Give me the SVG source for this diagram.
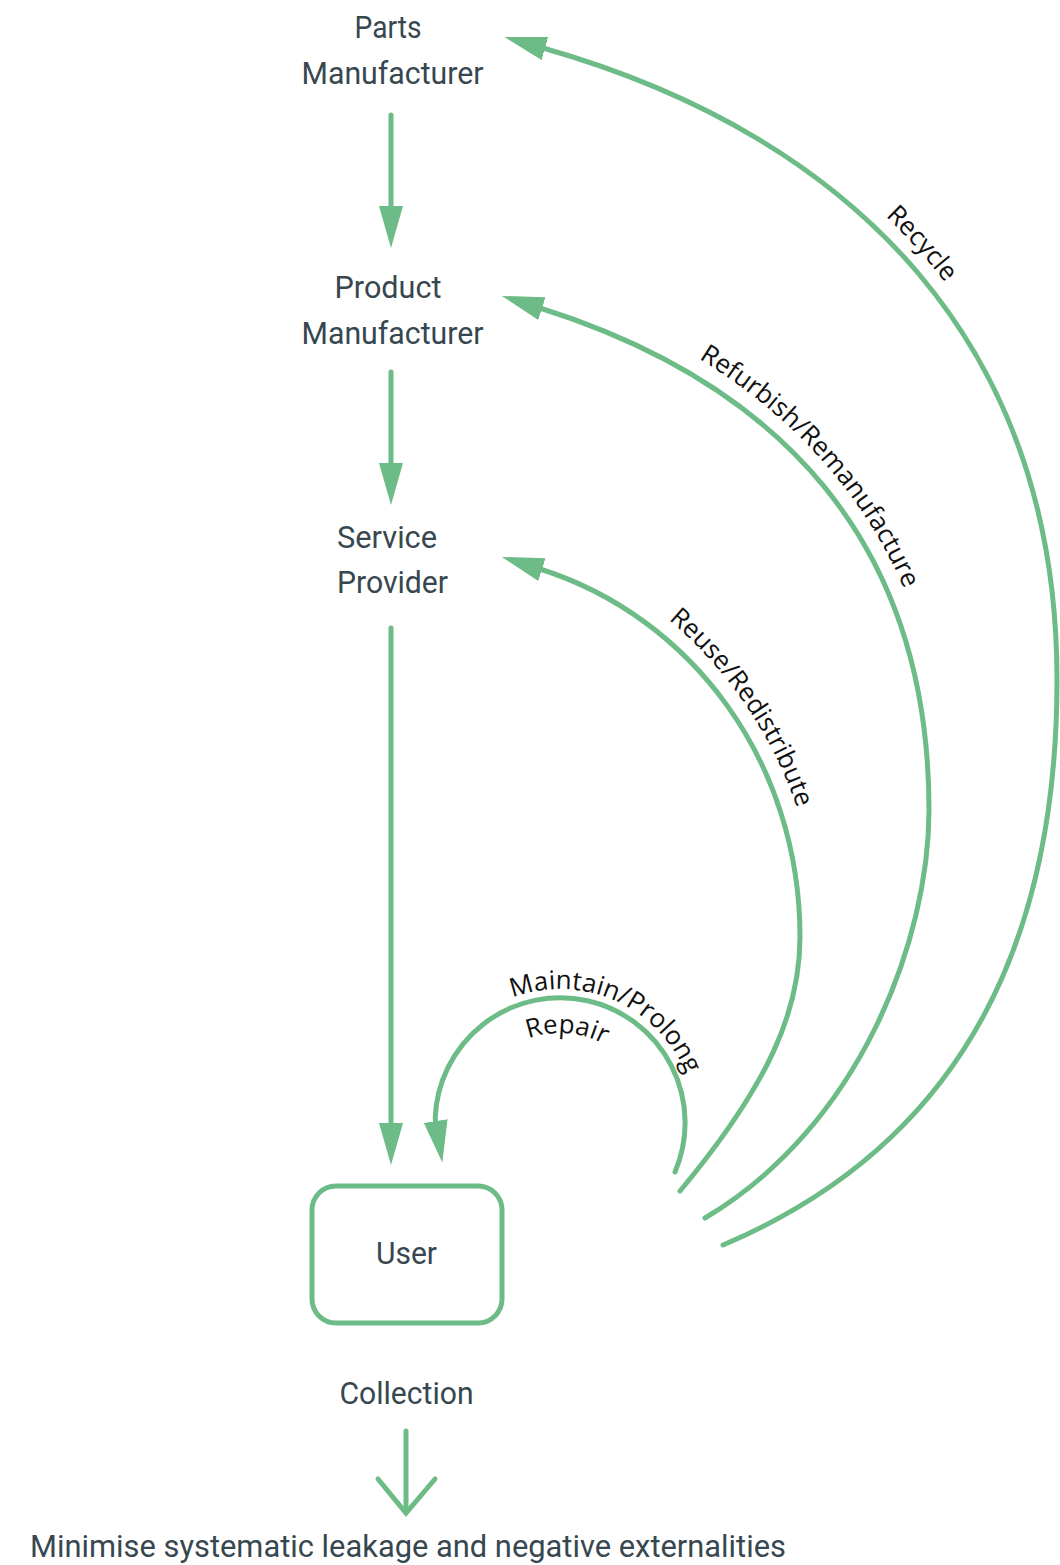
<svg xmlns="http://www.w3.org/2000/svg" xmlns:xlink="http://www.w3.org/1999/xlink" width="1060" height="1565" viewBox="0 0 1060 1565">
<style>
.node{font-family:Roboto,"Liberation Sans",sans-serif;font-size:32px;fill:#37474f;text-anchor:middle}
.lbl{font-family:"Open Sans","Noto Sans",sans-serif;font-size:26px;fill:#111}
.flow{fill:none;stroke:#6dbb86;stroke-width:5;stroke-linecap:round}
</style>
<defs>
<marker id="ah" markerUnits="userSpaceOnUse" viewBox="0 0 42 24" markerWidth="42" markerHeight="24" refX="2" refY="12" orient="auto">
<path d="M0,0 L42,12 L0,24 z" fill="#6dbb86"/>
</marker>
<path id="tpRecycle" d="M548.2,29.7 C865.2,119.7 1076,350 1076,680 C1076,930 978.4,1157.5 730.4,1262.5"/>
<path id="tpRefurb" d="M545.7,289.9 C783.2,364.9 948,540 948,810 C948,940 869.7,1142.3 714.7,1234.3"/>
<path id="tpReuse" d="M545.7,550.9 C697.7,598.9 819,762 819,937 C819,1010 784.6,1095.2 694.6,1203.2"/>
<path id="tpMaintain" d="M424,1125 A136,136 0 0 1 696,1125"/>
<path id="tpRepair" d="M468,1125 A92,92 0 0 1 652,1125"/>
</defs>
<rect width="1060" height="1565" fill="#fff"/>

<g id="connectors">
<path class="flow" d="M391,115 V208" marker-end="url(#ah)"/>
<path class="flow" d="M391,372 V465" marker-end="url(#ah)"/>
<path class="flow" d="M391,628 V1125" marker-end="url(#ah)"/>
<path class="flow" d="M723,1245 C971,1140 1057,930 1057,680 C1057,350 860,138 543,48" marker-end="url(#ah)"/>
<path class="flow" d="M705,1218 C860,1126 929,940 929,810 C929,540 777.5,383 540,308" marker-end="url(#ah)"/>
<path class="flow" d="M680,1191 C770,1083 800,1010 800,937 C800,762 692,617 540,569" marker-end="url(#ah)"/>
<path class="flow" d="M675,1172 A125,125 0 1 0 435.2,1118 L436,1123" marker-end="url(#ah)"/>
<path class="flow" d="M406,1431 V1510"/>
<path class="flow" d="M378,1479 L406,1513 L435,1479" stroke-width="6" stroke-linecap="butt"/>
<text class="lbl"><textPath xlink:href="#tpRecycle" startOffset="434" text-anchor="middle">Recycle</textPath></text>
<text class="lbl"><textPath xlink:href="#tpRefurb" startOffset="325" text-anchor="middle">Refurbish/Remanufacture</textPath></text>
<text class="lbl"><textPath xlink:href="#tpReuse" startOffset="257" text-anchor="middle">Reuse/Redistribute</textPath></text>
<text class="lbl"><textPath xlink:href="#tpMaintain" startOffset="270" text-anchor="middle">Maintain/Prolong</textPath></text>
<text class="lbl"><textPath xlink:href="#tpRepair" startOffset="151" text-anchor="middle">Repair</textPath></text>
</g>

<g id="parts">
<text class="node" x="388" y="38" textLength="67" lengthAdjust="spacingAndGlyphs">Parts</text>
<text class="node" x="392.5" y="84" textLength="182" lengthAdjust="spacingAndGlyphs">Manufacturer</text>
</g>
<g id="product">
<text class="node" x="388" y="298" textLength="107" lengthAdjust="spacingAndGlyphs">Product</text>
<text class="node" x="392.5" y="344" textLength="182" lengthAdjust="spacingAndGlyphs">Manufacturer</text>
</g>
<g id="service">
<text class="node" x="387" y="548" textLength="100" lengthAdjust="spacingAndGlyphs">Service</text>
<text class="node" x="392.5" y="593" textLength="111" lengthAdjust="spacingAndGlyphs">Provider</text>
</g>
<g id="user">
<rect x="312" y="1186" width="190" height="137" rx="24" fill="none" stroke="#6dbb86" stroke-width="5"/>
<text class="node" x="406.5" y="1264" textLength="61" lengthAdjust="spacingAndGlyphs">User</text>
</g>
<g id="collection">
<text class="node" x="406.5" y="1404" textLength="134" lengthAdjust="spacingAndGlyphs">Collection</text>
</g>
<g id="outcome">
<text class="node" x="408" y="1557" textLength="756" lengthAdjust="spacingAndGlyphs">Minimise systematic leakage and negative externalities</text>
</g>
</svg>
